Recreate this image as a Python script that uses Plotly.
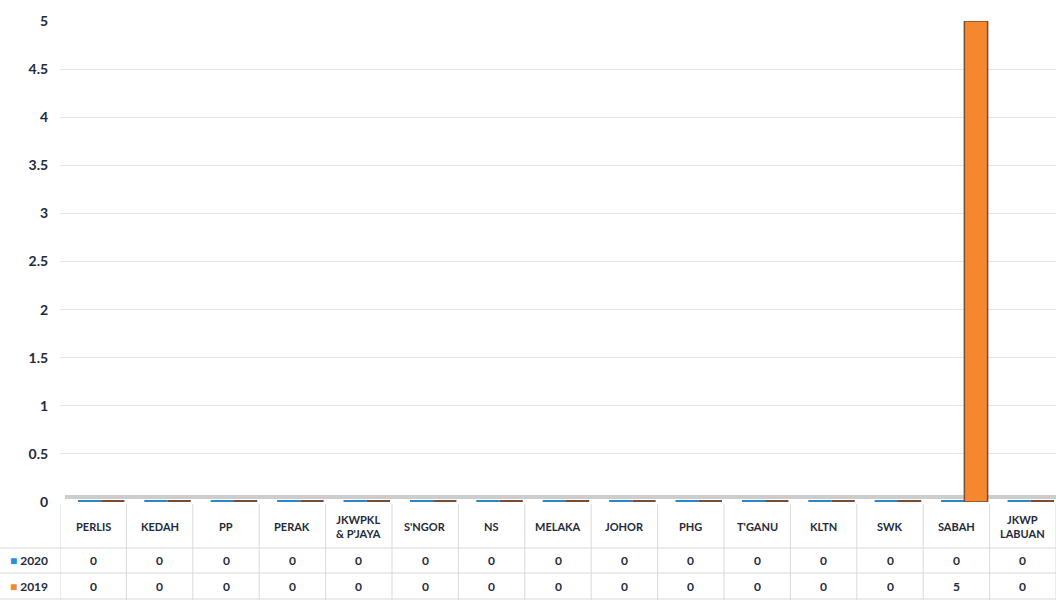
import plotly.graph_objects as go

categories = ["PERLIS", "KEDAH", "PP", "PERAK", "JKWPKL<br>& P'JAYA", "S'NGOR", "NS",
              "MELAKA", "JOHOR", "PHG", "T'GANU", "KLTN", "SWK", "SABAH", "JKWP<br>LABUAN"]
series_names = ["2020", "2019"]
values_2020 = [0, 0, 0, 0, 0, 0, 0, 0, 0, 0, 0, 0, 0, 0, 0]
values_2019 = [0, 0, 0, 0, 0, 0, 0, 0, 0, 0, 0, 0, 0, 5, 0]
y_ticks = [0, 0.5, 1, 1.5, 2, 2.5, 3, 3.5, 4, 4.5, 5]

colors = {"2020": "#2b8fd8", "2019": "#f5882f"}
edge = {"2020": "#2a86cc", "2019": "#7d4a33"}
series_vals = {"2020": values_2020, "2019": values_2019}

W, H = 1056, 600
x_left = 60
plot_bottom_px = 502
plot_top_px = 21
row_cat_bottom = 548
row_2020_bottom = 573
row_2019_bottom = 600
depth_shift = 0.12  # 3D perspective shift of the bars (in category units)

def py(px):
    return 1 - px / H

FONT = "Lato"
TXT = "#1f2a3a"

fig = go.Figure()
idx = list(range(len(categories)))
n = len(categories)
for name in series_names:
    vals = series_vals[name]
    fig.add_trace(go.Bar(
        x=idx, y=vals, name=name, xaxis="x2",
        marker=dict(color=colors[name],
                    line=dict(color=edge[name], width=[4 if v == 0 else 1.5 for v in vals])),
        showlegend=False, hoverinfo="skip",
    ))

shapes = []
annotations = []
grid = "#d9d9d9"
for ypx in [row_cat_bottom, row_2020_bottom, row_2019_bottom - 1]:
    shapes.append(dict(type="line", xref="paper", yref="paper", x0=0, x1=1,
                       y0=py(ypx), y1=py(ypx), line=dict(color=grid, width=1)))
for i in range(n + 1):
    shapes.append(dict(type="line", xref="x", yref="paper", x0=i - 0.5, x1=i - 0.5,
                       y0=py(plot_bottom_px + 2), y1=py(row_2019_bottom), line=dict(color=grid, width=1)))
shapes.append(dict(type="rect", xref="paper", yref="paper", x0=(x_left + 5) / W, x1=1,
                   y0=py(plot_bottom_px - 3), y1=py(plot_bottom_px - 7),
                   fillcolor="#cdcdcd", line=dict(width=0), layer="below"))

for i, c in enumerate(categories):
    annotations.append(dict(x=i, y=py((plot_bottom_px + row_cat_bottom) / 2 + 1), xref="x", yref="paper",
                            text=c, showarrow=False,
                            font=dict(family=FONT, size=11, color=TXT, weight="bold"),
                            xanchor="center", yanchor="middle", align="center"))
    annotations.append(dict(x=i, y=py((row_cat_bottom + row_2020_bottom) / 2), xref="x", yref="paper",
                            text=str(values_2020[i]), showarrow=False,
                            font=dict(family=FONT, size=12, color=TXT, weight="bold"), yanchor="middle"))
    annotations.append(dict(x=i, y=py((row_2020_bottom + row_2019_bottom) / 2), xref="x", yref="paper",
                            text=str(values_2019[i]), showarrow=False,
                            font=dict(family=FONT, size=12, color=TXT, weight="bold"), yanchor="middle"))

for name, (top, bot) in zip(series_names, [(row_cat_bottom, row_2020_bottom), (row_2020_bottom, row_2019_bottom)]):
    annotations.append(dict(x=8 / W, y=py((top + bot) / 2), xref="paper", yref="paper",
                            text=f"<span style='color:{colors[name]}'>■</span> {name}", showarrow=False,
                            xanchor="left", yanchor="middle",
                            font=dict(family=FONT, size=12, color=TXT, weight="bold")))

fig.update_layout(
    width=W, height=H,
    margin=dict(l=0, r=0, t=0, b=0, pad=0, autoexpand=False),
    paper_bgcolor="white", plot_bgcolor="white",
    barmode="group", bargap=0.3, bargroupgap=0.0,
    hovermode=False,
    xaxis=dict(domain=[x_left / W, 1], range=[-0.5, n - 0.5], showticklabels=False,
               showgrid=False, zeroline=False, showline=False, fixedrange=True, automargin=False),
    xaxis2=dict(domain=[x_left / W, 1], range=[-0.5 - depth_shift, n - 0.5 - depth_shift],
                overlaying="x", anchor="y", showticklabels=False,
                showgrid=False, zeroline=False, showline=False, fixedrange=True, automargin=False),
    yaxis=dict(domain=[py(plot_bottom_px), py(plot_top_px)], range=[0, 5],
               tickvals=y_ticks, ticktext=[f"{v:g}" for v in y_ticks],
               showgrid=True, gridcolor="#e3e3e3", gridwidth=1,
               zeroline=False, showline=False, automargin=False, fixedrange=True,
               ticks="outside", ticklen=8, tickcolor="rgba(0,0,0,0)",
               tickfont=dict(family=FONT, size=14, color=TXT, weight="bold")),
    shapes=shapes, annotations=annotations,
)

fig.write_html("out.html", config={"displayModeBar": False, "staticPlot": True},
               post_script="document.body.style.margin='0';document.body.style.padding='0';document.body.style.overflow='hidden';")
